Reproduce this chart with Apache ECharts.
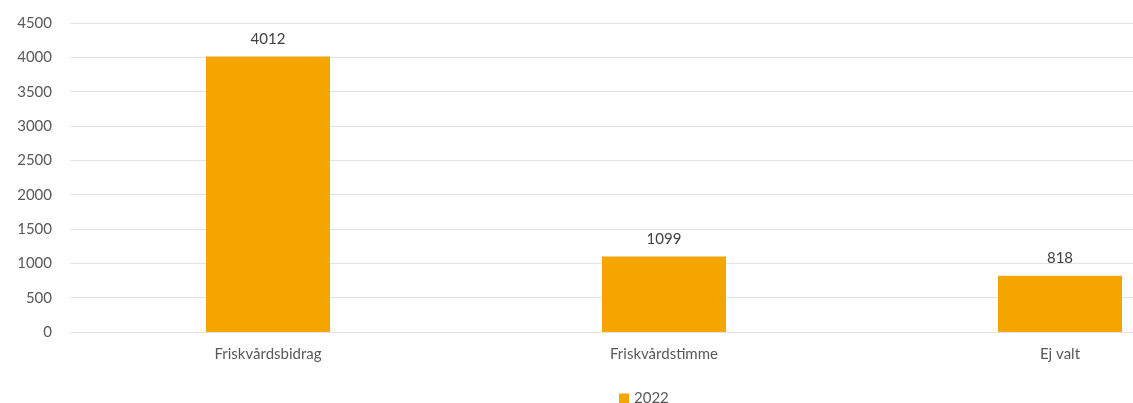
<!DOCTYPE html>
<html>
<head>
<meta charset="utf-8">
<script src="https://cdn.jsdelivr.net/npm/echarts@6/dist/echarts.min.js"></script>
<style>
html,body{margin:0;padding:0;background:#fff;overflow:hidden;width:1133px;height:403px;}
#chart{width:1258px;height:403px;}
</style>
</head>
<body>
<div id="chart"></div>
<script>
const categories = ['Friskvårdsbidrag', 'Friskvårdstimme', 'Ej valt'];
const seriesName = '2022';
const values2022 = [4012, 1099, 818];

const chart = echarts.init(document.getElementById('chart'), null, {renderer: 'canvas'});
const font = 'Lato, "Open Sans", sans-serif';
chart.setOption({
  animation: false,
  backgroundColor: '#ffffff',
  textStyle: {fontFamily: font},
  grid: {left: 70, top: 23, right: 0, height: 309, containLabel: false},
  legend: {
    data: [seriesName],
    top: 386,
    left: 614,
    itemWidth: 10, itemHeight: 10, itemGap: 6,
    icon: 'rect',
    textStyle: {color: '#595959', fontSize: 15, fontFamily: font}
  },
  xAxis: {
    type: 'category',
    data: categories,
    axisLine: {show: true, lineStyle: {color: '#e3e3e3', width: 1}},
    axisTick: {show: false},
    axisLabel: {color: '#595959', fontSize: 15, margin: 15, fontFamily: font}
  },
  yAxis: {
    type: 'value',
    min: 0, max: 4500, interval: 500,
    axisLine: {show: false},
    axisTick: {show: false},
    splitLine: {lineStyle: {color: '#e3e3e3', width: 1}},
    axisLabel: {color: '#595959', fontSize: 15, margin: 18, fontFamily: font, formatter: v => String(v)}
  },
  series: [{
    name: seriesName,
    type: 'bar',
    data: values2022,
    barWidth: 124,
    itemStyle: {color: '#F5A500'},
    label: {show: true, position: 'top', distance: 10, color: '#404040', fontSize: 15, fontFamily: font}
  }]
});
</script>
</body>
</html>
